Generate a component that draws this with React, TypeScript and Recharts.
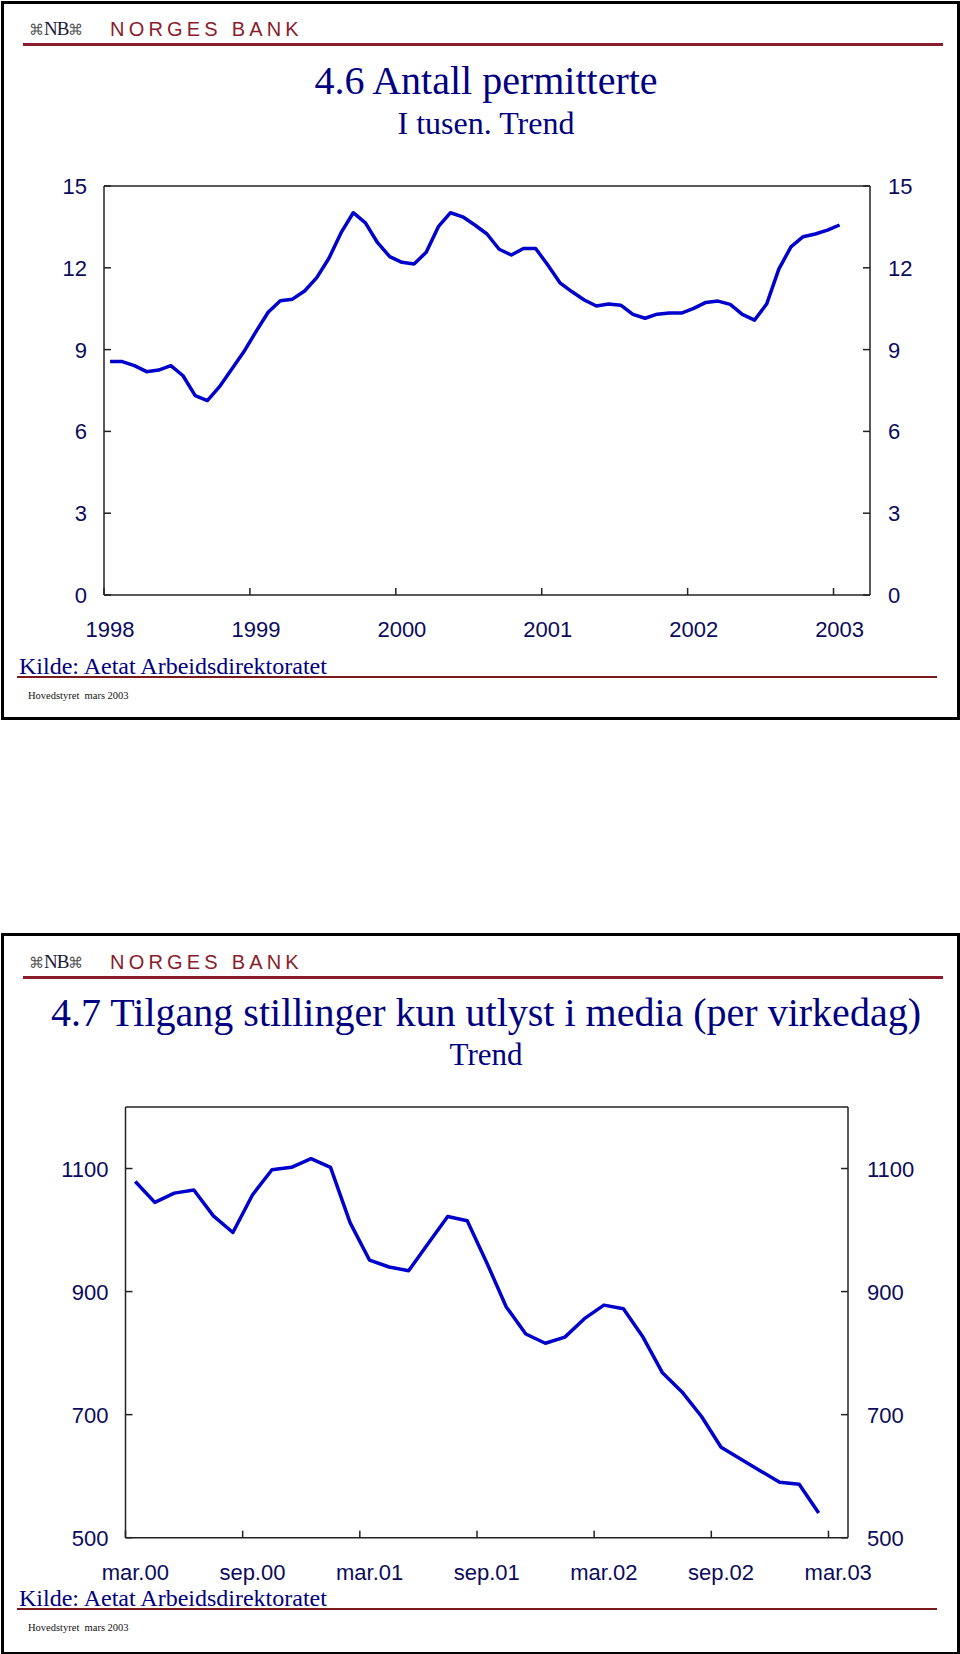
import React from "react";
import { LineChart, Line, XAxis, YAxis, ReferenceLine } from "recharts";

// 4.6 Antall permitterte, i tusen, trend. Monthly, jan.98 - jan.03
const permitterte = [
  8.56, 8.56, 8.41, 8.19, 8.25, 8.41, 8.04, 7.31, 7.13, 7.64,
  8.28, 8.92, 9.66, 10.37, 10.79, 10.85, 11.15, 11.64, 12.35, 13.29,
  14.02, 13.65, 12.92, 12.41, 12.2, 12.14, 12.57, 13.51, 14.02, 13.87,
  13.57, 13.24, 12.68, 12.47, 12.71, 12.71, 12.1, 11.45, 11.12, 10.82,
  10.6, 10.67, 10.63, 10.29, 10.15, 10.3, 10.34, 10.34, 10.51, 10.73,
  10.78, 10.66, 10.29, 10.08, 10.67, 11.95, 12.77, 13.14, 13.24, 13.38,
  13.57,
];
const years = ["1998", "1999", "2000", "2001", "2002", "2003"];
const permTicks = [0, 3, 6, 9, 12, 15];

// 4.7 Tilgang stillinger kun utlyst i media (per virkedag). Monthly, mar.00 - feb.03
const stillinger = [
  1079, 1045, 1060, 1065, 1023, 996, 1057, 1098, 1102, 1116,
  1102, 1012, 951, 940, 934, 978, 1022, 1015, 947, 875,
  831, 816, 826, 856, 878, 872, 826, 768, 737, 697,
  647, 628, 609, 590, 587, 540,
];
const halfYears = ["mar.00", "sep.00", "mar.01", "sep.01", "mar.02", "sep.02", "mar.03"];
const stillTicks = [500, 700, 900, 1100];

const data1 = permitterte.map((v, i) => ({ t: i + 0.5, v }));
const data2 = stillinger.map((v, i) => ({ t: i + 0.5, v }));

const NAVY = "#000080";
const TICK = "#0b0b5c";
const LINE = "#0000cc";
const AXIS = "#222";
const RED = "#8a1c2c";
const SANS = "'Liberation Sans', Arial, sans-serif";
const SERIF = "'Liberation Serif', 'Times New Roman', serif";

const XTick = (props: any) => {
  const { x, y, payload, labels, step, half } = props;
  const label = labels[Math.round(payload.value / step)];
  return (
    <g>
      <line x1={x} y1={y} x2={x} y2={y - 7} stroke={AXIS} strokeWidth={1.5} />
      <text x={x + half} y={y + 42} textAnchor="middle" fill={TICK} fontSize={22} fontFamily={SANS}>
        {label}
      </text>
    </g>
  );
};

const YTick = (props: any) => {
  const { x, y, payload, side, gap } = props;
  const dir = side === "left" ? 1 : -1;
  return (
    <g>
      <line x1={x} y1={y} x2={x + dir * 7} y2={y} stroke={AXIS} strokeWidth={1.5} />
      <text
        x={side === "left" ? x - gap : x + gap}
        y={y + 8}
        textAnchor={side === "left" ? "end" : "start"}
        fill={TICK}
        fontSize={22}
        fontFamily={SANS}
      >
        {payload.value}
      </text>
    </g>
  );
};

function Header({ top }: { top: number }) {
  return (
    <>
      <div style={{ position: "absolute", left: 29, top: top + 18, fontFamily: SANS, color: "#1a1a3a", whiteSpace: "nowrap" }}>
        <span style={{ fontSize: 15, color: "#555" }}>⌘</span>
        <span style={{ fontSize: 19, fontFamily: SERIF, letterSpacing: -1 }}>NB</span>
        <span style={{ fontSize: 15, color: "#555" }}>⌘</span>
      </div>
      <div
        style={{
          position: "absolute",
          left: 110,
          top: top + 17,
          fontSize: 20,
          letterSpacing: 4.2,
          color: RED,
          fontFamily: SANS,
          whiteSpace: "nowrap",
          lineHeight: "24px",
        }}
      >
        NORGES BANK
      </div>
      <div style={{ position: "absolute", left: 23, top: top + 43, width: 920, height: 3, background: RED }} />
    </>
  );
}

function Footer({ top }: { top: number }) {
  return (
    <>
      <div
        style={{
          position: "absolute",
          left: 19,
          top: top,
          fontSize: 24,
          fontFamily: SERIF,
          color: NAVY,
          whiteSpace: "nowrap",
          lineHeight: "28px",
        }}
      >
        Kilde: Aetat Arbeidsdirektoratet
      </div>
      <div style={{ position: "absolute", left: 17, top: top + 24, width: 920, height: 2, background: "#7a1a1a" }} />
      <div
        style={{
          position: "absolute",
          left: 28,
          top: top + 38,
          fontSize: 10.5,
          fontFamily: SERIF,
          color: "#111",
          whiteSpace: "pre",
        }}
      >
        {"Hovedstyret  mars 2003"}
      </div>
    </>
  );
}

export default function App() {
  const w1 = 870 - 104;
  const w2 = 848 - 125.5;
  return (
    <div style={{ position: "absolute", left: 0, top: 0, width: 960, height: 1654, background: "#fff", overflow: "hidden" }}>
      {/* Panel 1 */}
      <div style={{ position: "absolute", left: 1, top: 1, width: 953, height: 713, border: "3px solid #000" }} />
      <Header top={0} />
      <div style={{ position: "absolute", left: 0, width: 972, top: 58, textAlign: "center", fontFamily: SERIF, color: NAVY }}>
        <div style={{ fontSize: 40, lineHeight: "46px" }}>4.6 Antall permitterte</div>
        <div style={{ fontSize: 32, lineHeight: "38px" }}>I tusen. Trend</div>
      </div>
      <div style={{ position: "absolute", left: 0, top: 0 }}>
        <LineChart width={960} height={700} data={data1} margin={{ top: 186, left: 103, right: 89, bottom: 104 }}>
          <XAxis
            dataKey="t"
            type="number"
            domain={[0, 63]}
            ticks={[0, 12, 24, 36, 48, 60]}
            interval={0}
            height={1}
            tickSize={0}
            tickMargin={0}
            axisLine={{ stroke: AXIS, strokeWidth: 1.5 }}
            tickLine={false}
            tick={<XTick labels={years} step={12} half={w1 / 63 / 2} />}
          />
          <YAxis
            yAxisId="l"
            domain={[0, 15]}
            allowDataOverflow
            ticks={permTicks}
            interval={0}
            width={1}
            tickSize={0}
            tickMargin={0}
            axisLine={{ stroke: AXIS, strokeWidth: 1.5 }}
            tickLine={false}
            tick={<YTick side="left" gap={17} />}
          />
          <YAxis
            yAxisId="r"
            orientation="right"
            domain={[0, 15]}
            allowDataOverflow
            ticks={permTicks}
            interval={0}
            width={1}
            tickSize={0}
            tickMargin={0}
            axisLine={{ stroke: AXIS, strokeWidth: 1.5 }}
            tickLine={false}
            tick={<YTick side="right" gap={18} />}
          />
          <ReferenceLine yAxisId="r" y={15} stroke={AXIS} strokeWidth={1.5} />
          <Line
            yAxisId="l"
            dataKey="v"
            stroke={LINE}
            strokeWidth={3.5}
            dot={false}
            isAnimationActive={false}
            strokeLinejoin="round"
          />
        </LineChart>
      </div>
      <Footer top={652} />

      {/* Panel 2 */}
      <div style={{ position: "absolute", left: 1, top: 933, width: 953, height: 716, border: "3px solid #000" }} />
      <Header top={933} />
      <div style={{ position: "absolute", left: 0, width: 972, top: 990, textAlign: "center", fontFamily: SERIF, color: NAVY }}>
        <div style={{ fontSize: 40, lineHeight: "46px", whiteSpace: "nowrap" }}>
          4.7 Tilgang stillinger kun utlyst i media (per virkedag)
        </div>
        <div style={{ fontSize: 31, lineHeight: "38px" }}>Trend</div>
      </div>
      <div style={{ position: "absolute", left: 0, top: 1000 }}>
        <LineChart width={960} height={600} data={data2} margin={{ top: 107, left: 124.5, right: 111, bottom: 61.3 }}>
          <XAxis
            dataKey="t"
            type="number"
            domain={[0, 37]}
            ticks={[0, 6, 12, 18, 24, 30, 36]}
            interval={0}
            height={1}
            tickSize={0}
            tickMargin={0}
            axisLine={{ stroke: AXIS, strokeWidth: 1.5 }}
            tickLine={false}
            tick={<XTick labels={halfYears} step={6} half={w2 / 37 / 2} />}
          />
          <YAxis
            yAxisId="l"
            domain={[500, 1200]}
            allowDataOverflow
            ticks={stillTicks}
            interval={0}
            width={1}
            tickSize={0}
            tickMargin={0}
            axisLine={{ stroke: AXIS, strokeWidth: 1.5 }}
            tickLine={false}
            tick={<YTick side="left" gap={17} />}
          />
          <YAxis
            yAxisId="r"
            orientation="right"
            domain={[500, 1200]}
            allowDataOverflow
            ticks={stillTicks}
            interval={0}
            width={1}
            tickSize={0}
            tickMargin={0}
            axisLine={{ stroke: AXIS, strokeWidth: 1.5 }}
            tickLine={false}
            tick={<YTick side="right" gap={19} />}
          />
          <ReferenceLine yAxisId="r" y={1200} stroke={AXIS} strokeWidth={1.5} />
          <Line
            yAxisId="l"
            dataKey="v"
            stroke={LINE}
            strokeWidth={3.5}
            dot={false}
            isAnimationActive={false}
            strokeLinejoin="round"
          />
        </LineChart>
      </div>
      <Footer top={1584} />
    </div>
  );
}
